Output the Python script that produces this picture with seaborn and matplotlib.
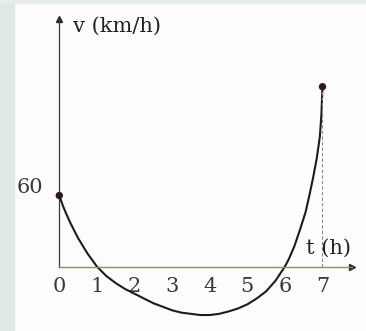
import matplotlib
matplotlib.use("Agg")
import matplotlib.pyplot as plt
from matplotlib.patches import Rectangle
import seaborn as sns

# curve: time (h) and speed (km/h)
t_vals = [0, 0.1, 0.2, 0.3, 0.5, 0.75, 1, 1.25, 1.5, 1.75, 2, 2.25, 2.5, 2.75, 3,
          3.25, 3.5, 3.75, 4, 4.25, 4.5, 4.75, 5, 5.25, 5.5, 5.75, 6, 6.1, 6.25,
          6.4, 6.55, 6.65, 6.75, 6.85, 6.93, 6.97, 7]
v_vals = [60, 51, 43.5, 36.5, 24, 11, 0, -8, -14, -19, -23, -27, -31, -34, -37,
          -39, -40, -41, -41, -40, -38, -35.5, -32, -27, -21, -12, 0, 6, 17,
          31, 46, 60, 75, 92, 110, 128, 152]

x_ticks = [0, 1, 2, 3, 4, 5, 6, 7]
y_label_val = 60
x_name = "t (h)"
y_name = "v (km/h)"

sns.set_style("white")
plt.rcParams['font.family'] = ['DejaVu Serif']

fig = plt.figure(figsize=(3.66, 3.31), dpi=100, facecolor="#fcfdfc")
# greenish page border on the left and top
fig.patches.append(Rectangle((0, 0), 14 / 366, 1, transform=fig.transFigure,
                             color="#dfe9e3", zorder=0))
fig.patches.append(Rectangle((0, 1 - 3 / 331), 1, 3 / 331, transform=fig.transFigure,
                             color="#e6eee9", zorder=0))

ax = fig.add_axes([14 / 366, 0, 1 - 14 / 366, 1 - 3 / 331])
ax.set_facecolor("#fcfdfc")
ax.set_xlim(-1.577 + 14 / 37.6, 8.157)
ax.set_ylim(-54.5, 225.3 - 3 / 1.183)

# axes through the origin with arrow heads
for side in ["top", "right"]:
    ax.spines[side].set_visible(False)
ax.spines["left"].set_position(("data", 0))
ax.spines["bottom"].set_position(("data", 0))
ax.spines["left"].set_bounds(0, 209)
ax.spines["bottom"].set_bounds(0, 7.78)
ax.spines["left"].set_color("#3a3a3a")
ax.spines["bottom"].set_color("#8f8a72")
ax.spines["left"].set_linewidth(0.9)
ax.spines["bottom"].set_linewidth(1.0)
ax.plot(0, 209, marker="^", color="#2a2a2a", markersize=5, clip_on=False)
ax.plot(7.78, 0, marker=">", color="#2a2a2a", markersize=5, clip_on=False)

ax.set_xticks(x_ticks)
ax.set_xticklabels([str(x) for x in x_ticks])
ax.tick_params(axis="x", direction="in", length=4, width=0.7, color="#9a9a8a",
               pad=7.5, labelsize=15, labelcolor="#3a3a3a")
ax.set_yticks([])

# curve and end points
sns.lineplot(x=t_vals, y=v_vals, color="#1c1c1c", linewidth=1.5, ax=ax, sort=False)
for ln in ax.get_lines():
    ln.set_solid_joinstyle("round")
sns.scatterplot(x=[t_vals[0], t_vals[-1]], y=[v_vals[0], v_vals[-1]], color="#2a1a14",
                s=28, ax=ax, zorder=5, edgecolor="none")
ax.vlines(t_vals[-1], 0, v_vals[-1], colors="#8a8a8a", linestyles=(0, (3, 2)),
          linewidth=0.8)

# labels
ax.text(-0.43, y_label_val + 7, str(y_label_val), ha="right", va="center",
        fontsize=15, color="#3a3a3a")
ax.text(0.36, 203, y_name, ha="left", va="center", fontsize=15, color="#222222")
ax.text(6.55, 15.6, x_name, ha="left", va="center", fontsize=15, color="#222222")

fig.savefig("out.png", dpi=100, facecolor=fig.get_facecolor())
